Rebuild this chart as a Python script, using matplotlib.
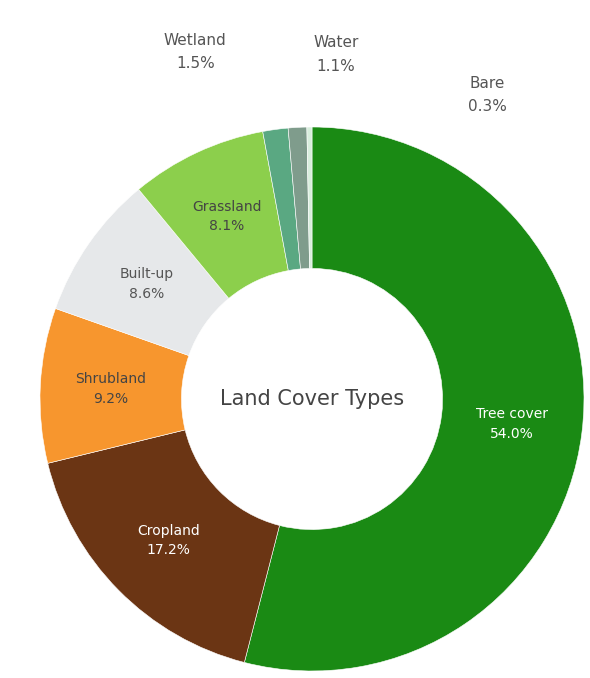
import matplotlib.pyplot as plt
import numpy as np

# land cover shares (%), clockwise from 12 o'clock
categories = ["Tree cover", "Cropland", "Shrubland", "Built-up", "Grassland",
              "Wetland", "Water", "Bare"]
shares = [54.0, 17.2, 9.2, 8.6, 8.1, 1.5, 1.1, 0.3]
colors = ["#1a8a14", "#6b3514", "#f7962e", "#e6e8ea", "#8ccf4c",
          "#5aa882", "#7f9c8c", "#d8eedd"]
center_title = "Land Cover Types"

text_colors = ["white", "white", "#444444", "#555555", "#444444",
               "#555555", "#555555", "#555555"]

fig = plt.figure(figsize=(5.9, 6.78), dpi=100)
ax = fig.add_axes([0, 0, 1, 1])

hole = 0.48
wedges, _ = ax.pie(shares, colors=colors, startangle=90, counterclock=False,
                   radius=1.0,
                   wedgeprops=dict(width=1 - hole, edgecolor="white", linewidth=0.4))

# pie() resets the limits, so set them afterwards (center at 312,399 px, R = 272 px)
R_PX = 272.0
cx, cy = 312.0, 399.0
ax.set_aspect("auto")
ax.set_xlim(-cx / R_PX, (590 - cx) / R_PX)
ax.set_ylim(-(678 - cy) / R_PX, cy / R_PX)
ax.axis("off")

labels = [f"{c}\n{s:.1f}%" for c, s in zip(categories, shares)]

# outside labels for thin slices get pushed apart (angle in deg cw from top, radius)
outside = {5: (341.4, 1.345), 6: (4, 1.27), 7: (30, 1.29)}

for i, w in enumerate(wedges):
    mid = np.deg2rad((w.theta1 + w.theta2) / 2)
    if i in outside:
        ang, r = outside[i]
        a = np.deg2rad(90 - ang)
        ax.text(r * np.cos(a), r * np.sin(a), labels[i], ha="center", va="center",
                fontsize=11, color="#555555", linespacing=1.7)
    else:
        r = (1 + hole) / 2
        ax.text(r * np.cos(mid), r * np.sin(mid), labels[i], ha="center", va="center",
                fontsize=10, color=text_colors[i], linespacing=1.5)

ax.text(0, 0, center_title, ha="center", va="center", fontsize=15,
        color="#444444")

fig.savefig("out.png", dpi=100)
